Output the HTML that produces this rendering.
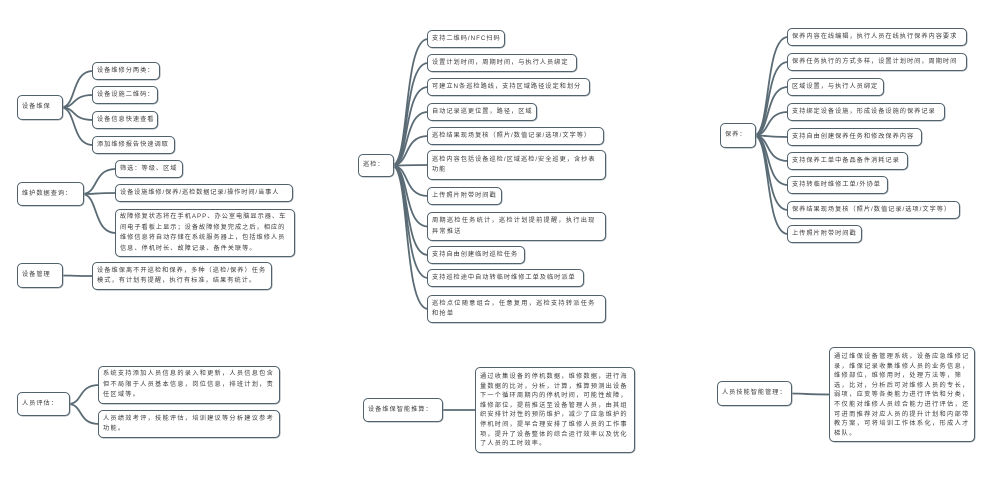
<!DOCTYPE html>
<html><head><meta charset="utf-8"><style>
body{margin:0;width:1001px;height:485px;background:#fff;position:relative;overflow:hidden;font-family:"Liberation Sans","Noto Sans CJK SC",sans-serif;}
.b{position:absolute;box-sizing:border-box;border:1.6px solid #52626c;border-radius:5px;background:#fff;color:#3a3a3a;font-size:6.2px;letter-spacing:1.25px;line-height:10.5px;padding:0 4px;display:flex;align-items:center;z-index:2;box-shadow:0.5px 0.5px 0 #9aa5ab;}
.n{white-space:nowrap;overflow:hidden;letter-spacing:1px}
svg{position:absolute;left:0;top:0;z-index:1}
</style></head><body>
<svg id="s" width="1001" height="485"></svg>
<div class="b n" id="r1" style="left:17px;top:95px;width:46px;height:25px">设备维保</div>
<div class="b n" style="left:92px;top:62px;width:68px;height:18px">设备维修分两类：</div>
<div class="b n" style="left:92px;top:86px;width:66px;height:18px">设备设施二维码：</div>
<div class="b n" style="left:92px;top:111px;width:66px;height:18px">设备信息快速查看</div>
<div class="b n" style="left:92px;top:136px;width:83px;height:18px">添加维修报告快速调取</div>
<div class="b n" id="r2" style="left:17px;top:182px;width:67px;height:24px">维护数据查询：</div>
<div class="b n" style="left:115px;top:160px;width:68px;height:18px">筛选：等级、区域</div>
<div class="b n" style="left:115px;top:184px;width:178px;height:18px;letter-spacing:0.9px">设备设施维修/保养/巡检数据记录/操作时间/当事人</div>
<div class="b" style="left:115px;top:209px;width:180px;height:48px;letter-spacing:1px">故障修复状态将在手机APP、办公室电脑显示器、车间电子看板上显示；设备故障修复完成之后，相应的维修信息将自动存储在系统服务器上，包括维修人员信息、停机时长、故障记录、备件关联等。</div>
<div class="b n" id="r3" style="left:17px;top:263px;width:46px;height:25px">设备管理</div>
<div class="b" style="left:92px;top:262px;width:180px;height:28px;letter-spacing:1.05px">设备维保离不开巡检和保养，多种（巡检/保养）任务模式，有计划有提醒，执行有标准，结果有统计。</div>
<div class="b n" id="r4" style="left:17px;top:392px;width:53px;height:24px">人员评估：</div>
<div class="b" style="left:98px;top:366px;width:182px;height:38px">系统支持添加人员信息的录入和更新，人员信息包含但不局限于人员基本信息，岗位信息，排班计划，责任区域等。</div>
<div class="b" style="left:98px;top:410px;width:182px;height:28px">人员绩效考评，技能评估，培训建议等分析建议参考功能。</div>
<div class="b n" id="r5" style="left:358px;top:154px;width:36px;height:23px">巡检：</div>
<div class="b n" style="left:427px;top:30px;width:78px;height:18px">支持二维码/NFC扫码</div>
<div class="b n" style="left:427px;top:54px;width:150px;height:18px">设置计划时间，周期时间，与执行人员绑定</div>
<div class="b n" style="left:427px;top:78px;width:163px;height:18px">可建立N条巡检路线，支持区域路径设定和划分</div>
<div class="b n" style="left:427px;top:103px;width:110px;height:18px">自动记录巡更位置，路径，区域</div>
<div class="b n" style="left:427px;top:127px;width:177px;height:18px">巡检结果现场复核（照片/数值记录/选项/文字等）</div>
<div class="b" style="left:427px;top:150px;width:179px;height:30px;letter-spacing:1px">巡检内容包括设备巡检/区域巡检/安全巡更，含抄表功能</div>
<div class="b n" style="left:427px;top:187px;width:75px;height:18px">上传照片附带时间戳</div>
<div class="b" style="left:427px;top:212px;width:179px;height:29px">周期巡检任务统计，巡检计划提前提醒，执行出现异常推送</div>
<div class="b n" style="left:427px;top:246px;width:98px;height:18px">支持自由创建临时巡检任务</div>
<div class="b n" style="left:427px;top:269px;width:157px;height:18px">支持巡检途中自动转临时维修工单及临时派单</div>
<div class="b" style="left:427px;top:295px;width:179px;height:28px">巡检点位随意组合，任意复用，巡检支持转派任务和抢单</div>
<div class="b n" id="r6" style="left:363px;top:398px;width:80px;height:24px">设备维保智能推算：</div>
<div class="b" style="left:475px;top:367px;width:160px;height:86px;line-height:9.6px;align-items:flex-start;padding-top:4px;letter-spacing:1.2px">通过收集设备的停机数据，维修数据，进行海量数据的比对，分析，计算，推算预测出设备下一个循环周期内的停机时间，可能性故障，维修部位，提前推送至设备管理人员，由其组织安排针对性的预防维护，减少了应急维护的停机时间，提早合理安排了维修人员的工作事项，提升了设备整体的综合运行效率以及优化了人员的工时效率。</div>
<div class="b n" id="r7" style="left:720px;top:123px;width:36px;height:25px">保养：</div>
<div class="b n" style="left:787px;top:28px;width:180px;height:18px">保养内容在线编辑，执行人员在线执行保养内容要求</div>
<div class="b n" style="left:787px;top:53px;width:180px;height:18px">保养任务执行的方式多样，设置计划时间，周期时间</div>
<div class="b n" style="left:787px;top:78px;width:97px;height:18px">区域设置，与执行人员绑定</div>
<div class="b n" style="left:787px;top:103px;width:158px;height:18px">支持绑定设备设施，形成设备设施的保养记录</div>
<div class="b n" style="left:787px;top:128px;width:135px;height:18px">支持自由创建保养任务和修改保养内容</div>
<div class="b n" style="left:787px;top:152px;width:121px;height:18px">支持保养工单中备品备件消耗记录</div>
<div class="b n" style="left:787px;top:176px;width:101px;height:18px">支持转临时维修工单/外协单</div>
<div class="b n" style="left:787px;top:201px;width:173px;height:18px">保养结果现场复核（照片/数值记录/选项/文字等）</div>
<div class="b n" style="left:787px;top:225px;width:75px;height:18px">上传照片附带时间戳</div>
<div class="b n" id="r8" style="left:717px;top:381px;width:75px;height:25px">人员技能智能管理：</div>
<div class="b" style="left:829px;top:347px;width:146px;height:95px;line-height:9.6px;align-items:flex-start;padding-top:4px;letter-spacing:1.35px">通过维保设备管理系统，设备应急维修记录，维保记录收集维修人员的业务信息，维修部位，维修用时，处理方法等，筛选，比对，分析后可对维修人员的专长，弱项，应变等各类能力进行评估和分类，不仅能对维修人员综合能力进行评估，还可进而推荐对应人员的提升计划和内部带教方案，可将培训工作体系化，形成人才梯队。</div>
<script>
var groups=[["r1",1,4],["r2",6,3],["r3",10,1],["r4",12,2],["r5",15,11],["r6",27,1],["r7",29,9],["r8",39,1]];
var all=[].slice.call(document.querySelectorAll('.b'));
var s=document.getElementById('s'),h='';
groups.forEach(function(g){
 var r=document.getElementById(g[0]);
 var x1=r.offsetLeft+r.offsetWidth-2,y1=r.offsetTop+r.offsetHeight/2;
 for(var i=0;i<g[2];i++){var c=all[g[1]+i];
  var x2=c.offsetLeft+1,y2=c.offsetTop+c.offsetHeight/2;
  h+='<path d="M'+x1+' '+y1+' C'+(x1+(x2-x1)*0.5)+' '+y1+' '+(x1+(x2-x1)*0.3)+' '+y2+' '+x2+' '+y2+'" fill="none" stroke="#5a6b75" stroke-width="1.8"/>';}
});
s.innerHTML=h;
</script>
</body></html>
